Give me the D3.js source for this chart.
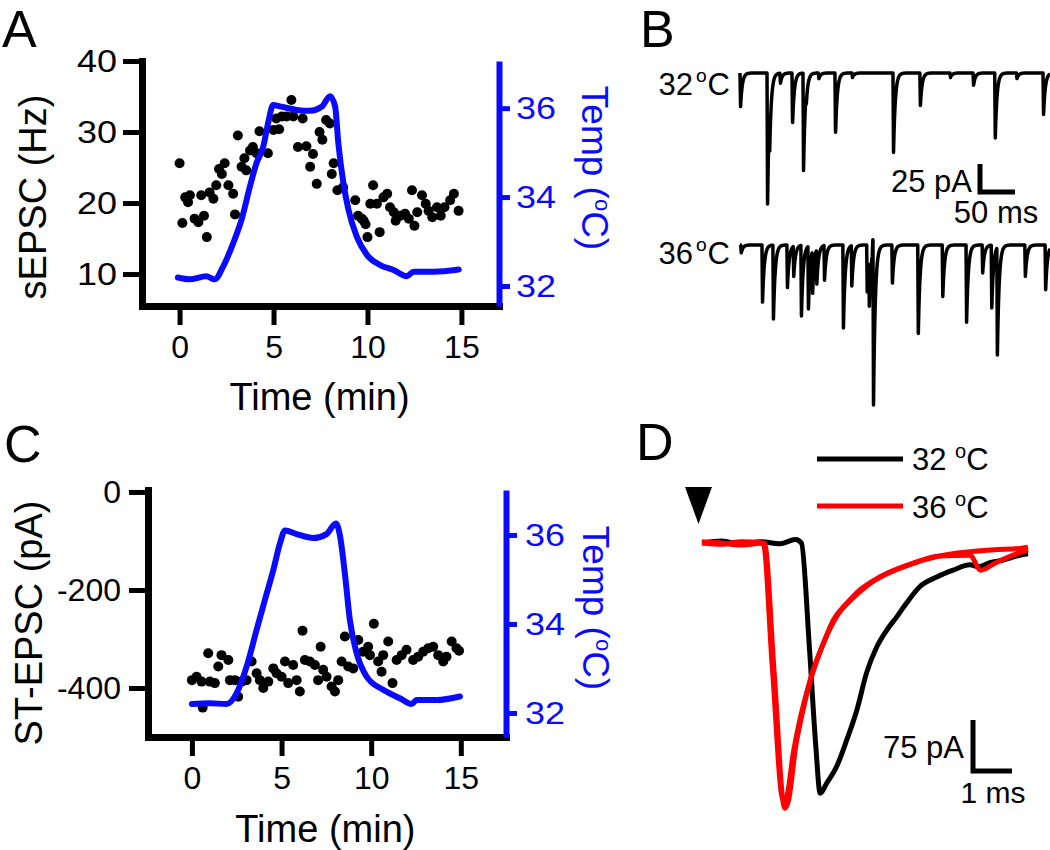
<!DOCTYPE html>
<html>
<head>
<meta charset="utf-8">
<script src="https://cdn.jsdelivr.net/npm/d3@7"></script>
<style>
  body { margin: 0; background: #fff; }
  svg { font-family: "Liberation Sans", Arial, sans-serif; }
</style>
</head>
<body>
<svg id="fig" width="1050" height="850"></svg>
<script>
// ---- data ----
const timeTicks = [0, 5, 10, 15];
const freqTicks = [10, 20, 30, 40];
const ampTicks = [0, -200, -400];
const tempTicks = [32, 34, 36];

// panel A: sEPSC frequency (min, Hz)
const sepscFreq = [[0,25.6],[0.15,17.2],[0.3,20.8],[0.45,20.1],[0.55,21.1],[0.8,17.8],[1.0,17.3],[1.15,21.1],
  [1.3,18.2],[1.45,15.2],[1.6,21.5],[1.8,20.6],[1.95,22.5],[2.1,24.8],[2.25,24.1],[2.4,25.6],[2.6,22.5],
  [2.85,21.3],[2.95,18.4],[3.1,29.5],[3.3,25.1],[3.45,26.3],[3.55,24.6],[3.75,27.4],[3.9,27.9],[4.1,27.0],
  [4.25,30.1],[4.7,27.0],[5.0,30.3],[5.15,31.9],[5.3,30.4],[5.45,32.2],[5.7,32.2],[5.95,34.5],[6.05,32.2],
  [6.3,27.9],[6.55,31.9],[6.75,28.0],[6.95,25.1],[7.1,26.9],[7.3,22.7],[7.45,30.0],[7.6,28.9],[7.8,31.7],
  [8.0,31.2],[8.1,24.1],[8.2,25.6],[8.4,21.8],[8.7,22.2],[9.35,20.4],[9.5,18.2],[9.7,17.8],[9.8,17.5],
  [9.9,17.0],[10.0,15.2],[10.15,19.9],[10.3,22.5],[10.5,19.9],[10.65,15.9],[10.85,20.8],[11.05,21.3],
  [11.2,19.4],[11.4,18.7],[11.5,17.5],[11.75,18.2],[12.0,18.5],[12.2,17.8],[12.37,21.8],[12.5,16.8],
  [12.65,18.7],[12.9,21.1],[13.1,19.9],[13.25,18.9],[13.45,18.0],[13.7,19.4],[13.9,18.2],[14.1,19.4],
  [14.4,20.4],[14.6,21.3],[14.85,18.9]];
// panel A: bath temperature (min, degC)
const tempA = [[-0.09,32.19],[0.53,32.15],[1.42,32.22],[1.87,32.15],[2.31,32.43],[2.85,32.96],[3.29,33.48],
  [3.74,34.23],[4.09,34.76],[4.45,35.13],[4.71,35.66],[4.98,36.07],[5.34,36.04],[6.23,35.96],[6.94,35.94],
  [7.56,36.03],[8.01,36.27],[8.28,36.03],[8.45,35.21],[8.72,34.31],[8.99,33.71],[9.43,33.11],[9.97,32.70],
  [10.68,32.47],[11.39,32.36],[12.1,32.22],[12.46,32.32],[13.52,32.32],[14.86,32.37]];

// panel C: ST-EPSC amplitude (min, pA)
const stAmp = [[0,-384],[0.26,-377],[0.54,-387],[0.6,-440],[0.91,-329],[1.0,-387],[1.28,-390],[1.47,-356],
  [1.65,-333],[2.03,-343],[2.12,-384],[2.4,-384],[2.58,-418],[2.77,-387],[3.05,-384],[3.33,-346],[3.61,-370],
  [3.79,-384],[3.98,-400],[4.26,-387],[4.54,-360],[4.72,-370],[5.0,-377],[5.19,-346],[5.37,-390],[5.65,-353],
  [5.84,-384],[6.02,-407],[6.17,-283],[6.3,-343],[6.58,-346],[6.86,-353],[7.04,-384],[7.18,-316],[7.32,-363],
  [7.51,-377],[7.79,-397],[7.98,-407],[8.16,-384],[8.35,-346],[8.53,-295],[8.72,-356],[9.0,-360],[9.28,-302],
  [9.55,-326],[9.83,-316],[9.93,-333],[10.15,-269],[10.39,-346],[10.58,-367],[10.67,-333],[10.95,-305],
  [11.19,-390],[11.42,-343],[11.7,-333],[11.97,-322],[12.34,-343],[12.62,-336],[12.9,-326],[13.18,-319],
  [13.46,-316],[13.74,-333],[14.02,-346],[14.2,-336],[14.49,-305],[14.76,-319],[14.9,-324]];
const tempC = [[0,32.2],[1.0,32.22],[1.93,32.2],[2.49,32.44],[3.05,33.04],[3.61,33.87],[4.07,34.54],
  [4.54,35.21],[4.91,35.81],[5.19,36.1],[5.84,36.02],[6.77,35.93],[7.51,36.02],[8.03,36.26],[8.25,36.0],
  [8.53,35.14],[8.81,34.09],[9.19,33.34],[9.74,32.82],[10.67,32.52],[11.6,32.33],[12.25,32.2],[12.53,32.29],
  [13.65,32.29],[14.95,32.37]];

// panel B: spontaneous events (ms, amplitude pA)
const events32 = [[0,30],[38.6,117],[41.5,36],[57,9],[74.3,46],[90,87],[94,10],[112,5],[135.7,55],[160,4],
  [218.6,71],[257,29],[300,4],[333,11],[364,58],[395,5],[433,37]];
const events36 = [[1,7],[31.4,51],[47,66],[67,38],[76,27],[87,63],[97,56],[103,38],[109,31],[120,31],
  [147,74],[159,36],[181,42],[184,42],[189,-12],[190,146],[217,34],[254,79],[289,46],[323,69],[346,25],
  [359,56],[367,96],[407,28],[436,40]];

// panel D: evoked ST-EPSCs (ms, pA)
const evoked32 = [[0,0],[0.5,3],[1.0,-2],[1.5,2],[2.0,-1],[2.4,5],[2.55,0],[2.75,-150],[2.92,-300],
  [3.03,-368],[3.2,-353],[3.45,-329],[3.71,-290],[3.97,-246],[4.22,-191],[4.48,-153],[4.74,-128],[4.99,-109],
  [5.25,-88],[5.59,-64],[6.02,-50],[6.44,-40],[6.87,-32],[7.1,-35],[7.38,-29],[7.72,-25],[8.15,-18],[8.36,-16]];
const evoked36a = [[0,0],[0.5,-2],[1.0,2],[1.57,0],[1.8,-180],[2.08,-378],[2.17,-373],[2.34,-309],
  [2.51,-260],[2.68,-221],[2.85,-187],[3.11,-148],[3.37,-113],[3.71,-89],[4.05,-69],[4.56,-50],[5.16,-35],
  [6.02,-20],[6.87,-13],[7.5,-10],[8.15,-8],[8.36,-6]];
const evoked36b = [[0,2],[0.5,0],[1.0,-3],[1.6,0],[1.85,-190],[2.12,-390],[2.22,-378],[2.4,-300],
  [2.58,-248],[2.76,-206],[2.95,-172],[3.2,-136],[3.5,-104],[3.85,-82],[4.25,-62],[4.75,-45],[5.35,-31],
  [6.1,-19],[6.87,-18],[7.15,-40],[7.5,-30],[8.15,-14],[8.36,-10]];

const BLUE = "#0a0aff";
const svg = d3.select("#fig");

// ---- panel letters ----
[["A", 2, 47], ["B", 640, 47], ["C", 4, 462], ["D", 636, 460]].forEach(([t, x, y]) => {
  svg.append("text").attr("x", x).attr("y", y).attr("font-size", 52).text(t);
});

// time course panels A and C
function timeCourse(cfg) {
  const g = svg.append("g");
  const x = d3.scaleLinear().domain(cfg.xDomain).range([cfg.left, cfg.right]);
  const y = d3.scaleLinear().domain(cfg.yDomain).range([cfg.bottom, cfg.top]);
  const yT = d3.scaleLinear().domain(cfg.tDomain).range([cfg.bottom, cfg.top]);

  const style = (sel, color, width) => {
    sel.select(".domain").attr("stroke", color).attr("stroke-width", 7).attr("stroke-linecap", "square");
    sel.selectAll(".tick line").attr("stroke", color).attr("stroke-width", 5);
    const txt = sel.selectAll(".tick text").attr("fill", color).attr("font-size", 32)
      .attr("font-family", "Liberation Sans, Arial, sans-serif");
    // the original labels are drawn a little wider than plain Arial
    if (width) txt.attr("textLength", d => String(d).length * width).attr("lengthAdjust", "spacingAndGlyphs");
  };

  g.append("g").attr("transform", `translate(0,${cfg.bottom})`)
    .call(d3.axisBottom(x).tickValues(timeTicks).tickSize(19).tickPadding(10).tickSizeOuter(0))
    .call(s => style(s, "#000"));
  g.append("g").attr("transform", `translate(${cfg.left},0)`)
    .call(d3.axisLeft(y).tickValues(cfg.yTicks).tickFormat(d => String(d))
      .tickSize(19).tickPadding(cfg.yPad).tickSizeOuter(0))
    .call(s => style(s, "#000", cfg.yCharW));
  g.append("g").attr("transform", `translate(${cfg.right},0)`)
    .call(d3.axisRight(yT).tickValues(tempTicks).tickFormat(d3.format("d"))
      .tickSize(11).tickPadding(cfg.tPad).tickSizeOuter(0))
    .call(s => style(s, BLUE, 20))
    .call(s => s.select(".domain").attr("stroke-width", 6).attr("stroke-linecap", "butt"));

  g.append("g").selectAll("circle").data(cfg.dots).join("circle")
    .attr("cx", d => x(d[0])).attr("cy", d => y(d[1])).attr("r", 5).attr("fill", "#000");

  g.append("path").datum(cfg.temp)
    .attr("d", d3.line().x(d => x(d[0])).y(d => yT(d[1])).curve(d3.curveMonotoneX))
    .attr("fill", "none").attr("stroke", BLUE).attr("stroke-width", 6)
    .attr("stroke-linejoin", "round").attr("stroke-linecap", "round");

  g.append("text").attr("x", (x(0) + x(15)) / 2 - 1).attr("y", cfg.titleY)
    .attr("text-anchor", "middle").attr("font-size", 38).text("Time (min)");
  g.append("text").attr("transform", `translate(${cfg.yTitleX},${cfg.yTitleY}) rotate(-90)`)
    .attr("text-anchor", "middle").attr("font-size", 38).text(cfg.yTitle);
  const tt = g.append("text").attr("transform", `translate(${cfg.tTitleX},${cfg.tTitleY}) rotate(90)`)
    .attr("text-anchor", "middle").attr("font-size", 37).attr("fill", BLUE);
  tt.append("tspan").text("Temp (");
  tt.append("tspan").attr("font-size", 22).attr("dy", -13).text("o");
  tt.append("tspan").attr("dy", 13).text("C)");
}

timeCourse({
  left: 142, right: 499, top: 61, bottom: 306,
  xDomain: [-2, 17], yDomain: [5.5, 40], tDomain: [31.55, 37.06],
  yTicks: freqTicks, yPad: 6, tPad: 6, yCharW: 20,
  dots: sepscFreq, temp: tempA,
  titleY: 410, yTitle: "sEPSC (Hz)", yTitleX: 46, yTitleY: 197,
  tTitleX: 582, tTitleY: 168
});

timeCourse({
  left: 148, right: 506, top: 490, bottom: 737,
  xDomain: [-2.45, 17.52], yDomain: [-500, 4], tDomain: [31.46, 37.01],
  yTicks: ampTicks, yPad: 8, tPad: 8,
  dots: stAmp, temp: tempC,
  titleY: 842, yTitle: "ST-EPSC (pA)", yTitleX: 42, yTitleY: 623,
  tTitleX: 583, tTitleY: 608
});

// ---- panel B: spontaneous traces ----
const xB = d3.scaleLinear().domain([0, 443]).range([740, 1050]);
const sampleB = d3.range(0, 443.01, 0.2);
// event waveform: fast rise, exponential decay
const kernel = dt => dt < 0 ? 0 : dt < 0.8 ? dt / 0.8 : Math.exp(-(dt - 0.8) / 2.5);

function traceB(events, base) {
  const y = d3.scaleLinear().domain([0, -100]).range([base, base + 112]);
  const pts = sampleB.map(t => [t, -d3.sum(events, e => e[1] * kernel(t - e[0]))]);
  svg.append("path").datum(pts)
    .attr("d", d3.line().x(d => xB(d[0])).y(d => y(d[1])))
    .attr("fill", "none").attr("stroke", "#000").attr("stroke-width", 3.5).attr("stroke-linejoin", "round");
  return y;
}
const yB32 = traceB(events32, 73);
traceB(events36, 245);

function degreeLabel(x, y, num, size) {
  const t = svg.append("text").attr("x", x).attr("y", y).attr("text-anchor", "end").attr("font-size", size);
  t.append("tspan").text(num);
  t.append("tspan").attr("font-size", size * 0.62).attr("dy", -size * 0.42).attr("dx", 3).text("o");
  t.append("tspan").attr("dy", size * 0.42).attr("dx", 1).text("C");
}
degreeLabel(730, 95, "32", 31);
degreeLabel(730, 264, "36", 31);

// B scale bar: 25 pA, 50 ms
const sbx = 980, sby = 192;
svg.append("path")
  .attr("d", `M${sbx},${sby - (yB32(-25) - yB32(0))}V${sby}H${sbx + xB(50) - xB(0)}`)
  .attr("fill", "none").attr("stroke", "#000").attr("stroke-width", 5);
svg.append("text").attr("x", 972).attr("y", 192).attr("text-anchor", "end").attr("font-size", 31).text("25 pA");
svg.append("text").attr("x", 996).attr("y", 223).attr("text-anchor", "middle").attr("font-size", 31).text("50 ms");

// ---- panel D: evoked traces ----
const xD = d3.scaleLinear().domain([0, 8.36]).range([702, 1028]);
const yD = d3.scaleLinear().domain([0, -400]).range([543, 815]);
const lineD = d3.line().x(d => xD(d[0])).y(d => yD(d[1])).curve(d3.curveMonotoneX);
[[evoked32, "#000"], [evoked36a, "#ff0000"], [evoked36b, "#ff0000"]].forEach(([d, c]) => {
  svg.append("path").datum(d).attr("d", lineD)
    .attr("fill", "none").attr("stroke", c).attr("stroke-width", 5).attr("stroke-linejoin", "round");
});

// stimulus arrowhead
svg.append("path").attr("d", "M685,487L712,487L698.5,524Z").attr("fill", "#000");

// legend
[["32", "#000", 459, 470], ["36", "#ff0000", 506, 518]].forEach(([n, c, ly, ty]) => {
  svg.append("line").attr("x1", 817).attr("x2", 903).attr("y1", ly).attr("y2", ly)
    .attr("stroke", c).attr("stroke-width", 5);
  const t = svg.append("text").attr("x", 912).attr("y", ty).attr("font-size", 31);
  t.append("tspan").text(n + " ");
  t.append("tspan").attr("font-size", 20).attr("dy", -12).text("o");
  t.append("tspan").attr("dy", 12).text("C");
});

// D scale bar: 75 pA, 1 ms
const dbx = 973, dby = 771;
svg.append("path")
  .attr("d", `M${dbx},${dby - (yD(-75) - yD(0))}V${dby}H${dbx + xD(1) - xD(0)}`)
  .attr("fill", "none").attr("stroke", "#000").attr("stroke-width", 5);
svg.append("text").attr("x", 964).attr("y", 758).attr("text-anchor", "end").attr("font-size", 31).text("75 pA");
svg.append("text").attr("x", 993).attr("y", 803).attr("text-anchor", "middle").attr("font-size", 30).text("1 ms");
</script>
</body>
</html>
